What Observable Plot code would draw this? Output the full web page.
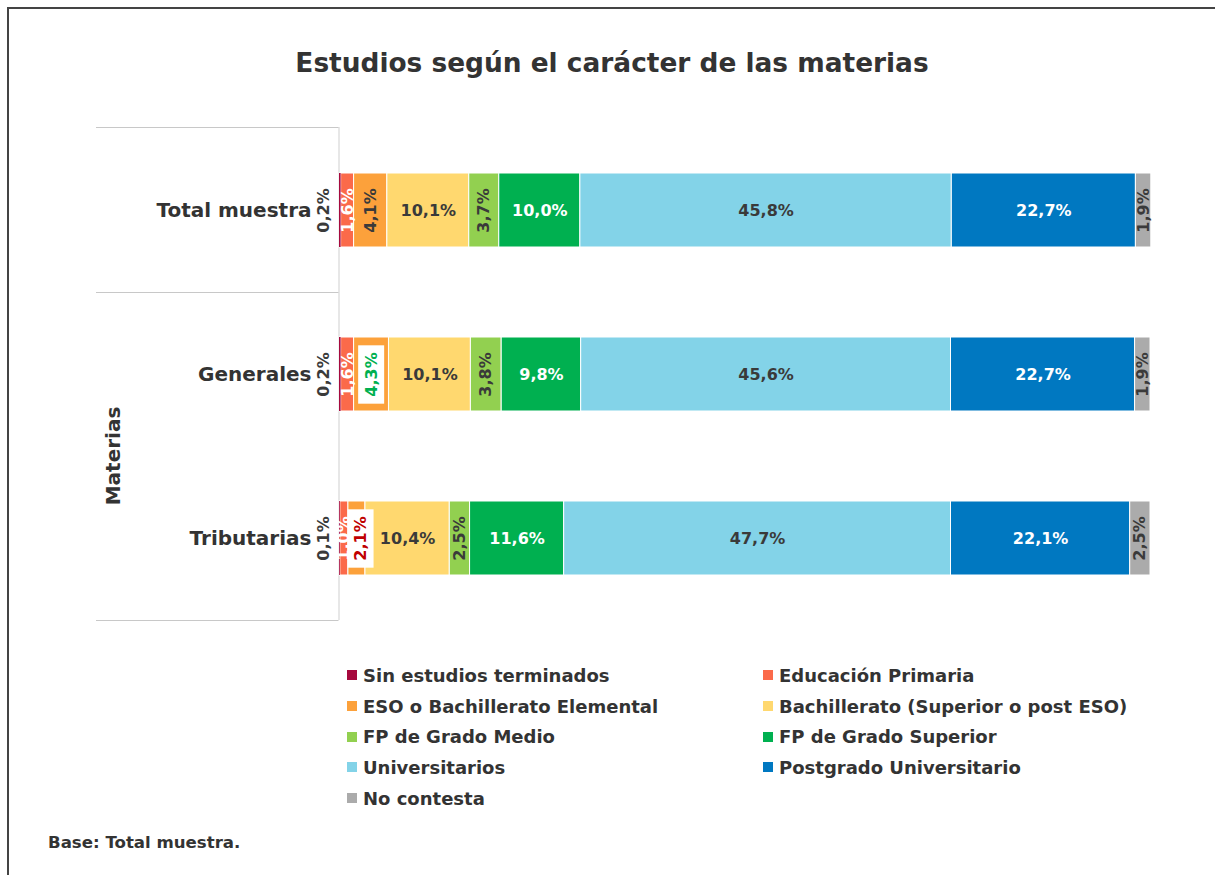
<!DOCTYPE html>
<html><head><meta charset="utf-8">
<script src="https://cdn.jsdelivr.net/npm/d3@7"></script>
<script src="https://cdn.jsdelivr.net/npm/@observablehq/plot@0.6"></script>
<style>
body{margin:0;background:#fff;font-family:"DejaVu Sans",Verdana,sans-serif;color:#3a3a3a;}
#wrap{position:relative;width:1215px;height:875px;overflow:hidden;background:#fff;}
#border{position:absolute;left:7px;top:7px;width:1300px;height:1000px;border-left:2px solid #444;border-top:2px solid #444;}
#title{position:absolute;left:0;width:1224px;top:48px;line-height:30px;text-align:center;font-weight:bold;font-size:26.4px;color:#333;}
#chart{position:absolute;left:0;top:100px;}
#legend{position:absolute;left:347px;top:660px;display:grid;grid-template-columns:416px 416px;grid-auto-rows:30.7px;font-size:18px;font-weight:bold;color:#333;}
#legend .it{display:flex;align-items:center;white-space:nowrap;}
#legend .sw{width:10px;height:10px;margin-right:6px;flex:none;}
#caption{position:absolute;left:48px;top:833px;line-height:20px;font-size:16.6px;font-weight:bold;color:#333;}
</style>
</head><body>
<div id="wrap">
  <div id="border"></div>
  <div id="title"></div>
  <div id="chart"></div>
  <div id="legend"></div>
  <div id="caption"></div>
</div>
<script>
// ---- data ----
const titleText = "Estudios según el carácter de las materias";
const captionText = "Base: Total muestra.";
const groupLabel = "Materias";
const categories = ["Total muestra", "Generales", "Tributarias"];
const series = [
  "Sin estudios terminados",
  "Educación Primaria",
  "ESO o Bachillerato Elemental",
  "Bachillerato (Superior o post ESO)",
  "FP de Grado Medio",
  "FP de Grado Superior",
  "Universitarios",
  "Postgrado Universitario",
  "No contesta"
];
const colors = ["#A6093D", "#FB6A4A", "#FCA13B", "#FFD86F", "#92D050", "#00B050", "#83D3E8", "#0078C1", "#ABABAB"];
const totalMuestra = [0.2, 1.6, 4.1, 10.1, 3.7, 10.0, 45.8, 22.7, 1.9];
const generales    = [0.2, 1.6, 4.3, 10.1, 3.8, 9.8, 45.6, 22.7, 1.9];
const tributarias  = [0.1, 1.0, 2.1, 10.4, 2.5, 11.6, 47.7, 22.1, 2.5];

(function () {
// ---- table ----
const rows = [];
[totalMuestra, generales, tributarias].forEach((vals, i) =>
  vals.forEach((v, j) => rows.push({cat: categories[i], serie: series[j], idx: j, value: v})));

const fmt = v => v.toFixed(1).replace(".", ",") + "%";
const dark = "#3a3a3a";
const greenLbl = "#00B050", redLbl = "#C00000";
const isBoxed = d => d.idx === 2 && (d.cat === "Generales" || d.cat === "Tributarias");

const lab = (pred, opts) => Plot.text(rows, Plot.stackX({
  x: "value", y: "cat", z: "serie", order: series,
  text: d => pred(d) ? fmt(d.value) : null,
  fontSize: 16, fontWeight: "bold", ...opts
}));

document.getElementById("title").textContent = titleText;
document.getElementById("caption").textContent = captionText;

const W = 1215, H = 540, mt = 27, mb = 20;
const plot = Plot.plot({
  width: W, height: H,
  marginLeft: 339, marginRight: 65, marginTop: mt, marginBottom: mb,
  style: {fontFamily: "'DejaVu Sans', Verdana, sans-serif", color: "#333", background: "transparent"},
  x: {domain: [0, 100], axis: null},
  y: {domain: categories, paddingInner: 0.55, paddingOuter: 0.275, axis: null},
  color: {domain: series, range: colors},
  marks: [
    Plot.ruleX([0], {stroke: "#cfcfcf", dx: -0.5}),
    Plot.barX(rows, Plot.stackX({x: "value", y: "cat", fill: "serie", order: series, stroke: "white", strokeWidth: 1})),
    Plot.barX(rows, Plot.stackX({x: "value", y: "cat", fill: "serie", filter: d => d.idx === 0})),
    Plot.axisY({tickSize: 0, tickPadding: 28, fontSize: 20, fontWeight: "bold", label: null}),
    Plot.text(rows, {y: "cat", text: d => d.idx === 0 ? fmt(d.value) : null, frameAnchor: "left", textAnchor: "middle", dx: -16, rotate: -90, fontSize: 16, fontWeight: "bold", fill: dark}),
    lab(d => d.idx === 3 || d.idx === 6, {fill: dark}),
    lab(d => d.idx === 5 || d.idx === 7, {fill: "white"}),
    lab(d => d.idx === 1, {fill: "white", rotate: -90}),
    lab(d => (d.idx === 2 || d.idx === 4 || d.idx === 8) && !isBoxed(d), {fill: dark, rotate: -90}),
    lab(d => d.idx === 2 && d.cat === "Generales", {fill: greenLbl, rotate: -90}),
    lab(d => d.idx === 2 && d.cat === "Tributarias", {fill: redLbl, rotate: -90, dx: 4})
  ]
});
document.getElementById("chart").appendChild(plot);

// white boxes behind highlighted labels
const boxedTexts = rows.filter(isBoxed).map(d => fmt(d.value));
Array.from(plot.querySelectorAll("text")).forEach(function(el) {
  if (!boxedTexts.includes(el.textContent)) return;
  const pf = ((el.parentNode && el.parentNode.getAttribute("fill")) || "").toUpperCase();
  const ef = (el.getAttribute("fill") || "").toUpperCase();
  if (![greenLbl, redLbl].includes(pf) && ![greenLbl, redLbl].includes(ef)) return;
  const b = el.getBBox();
  const padAlong = 7, padAcross = 3.5;
  const r = document.createElementNS("http://www.w3.org/2000/svg", "rect");
  r.setAttribute("x", b.x - padAlong);
  r.setAttribute("y", b.y - padAcross);
  r.setAttribute("width", b.width + 2 * padAlong);
  r.setAttribute("height", b.height + 2 * padAcross);
  r.setAttribute("fill", "white");
  r.setAttribute("stroke", "none");
  const t = el.getAttribute("transform");
  if (t) r.setAttribute("transform", t);
  el.parentNode.insertBefore(r, el);
});

// category grouping lines and group label
const ys = plot.scale("y");
const bw = ys.bandwidth;
const centers = categories.map(k => ys.apply(k) + bw / 2);
const yTop = mt, yBottom = H - mb, yMid = (centers[0] + centers[1]) / 2;
const svg = d3.select(plot);
const g = svg.append("g").attr("stroke", "#c8c8c8").attr("stroke-width", 1);
[yTop, yMid, yBottom].forEach(yy => g.append("line").attr("x1", 96).attr("x2", 338.5).attr("y1", yy + 0.5).attr("y2", yy + 0.5));
svg.append("text")
  .attr("transform", `translate(113,${(yMid + yBottom) / 2}) rotate(-90)`)
  .attr("text-anchor", "middle").attr("dy", "0.35em")
  .attr("font-size", 20).attr("font-weight", "bold").attr("fill", "#333")
  .text(groupLabel);

// legend
const leg = document.getElementById("legend");
series.forEach((s, i) => {
  const it = document.createElement("div"); it.className = "it";
  const sw = document.createElement("span"); sw.className = "sw"; sw.style.background = colors[i];
  const tx = document.createElement("span"); tx.textContent = s;
  it.appendChild(sw); it.appendChild(tx); leg.appendChild(it);
});
})();
</script>
</body></html>
